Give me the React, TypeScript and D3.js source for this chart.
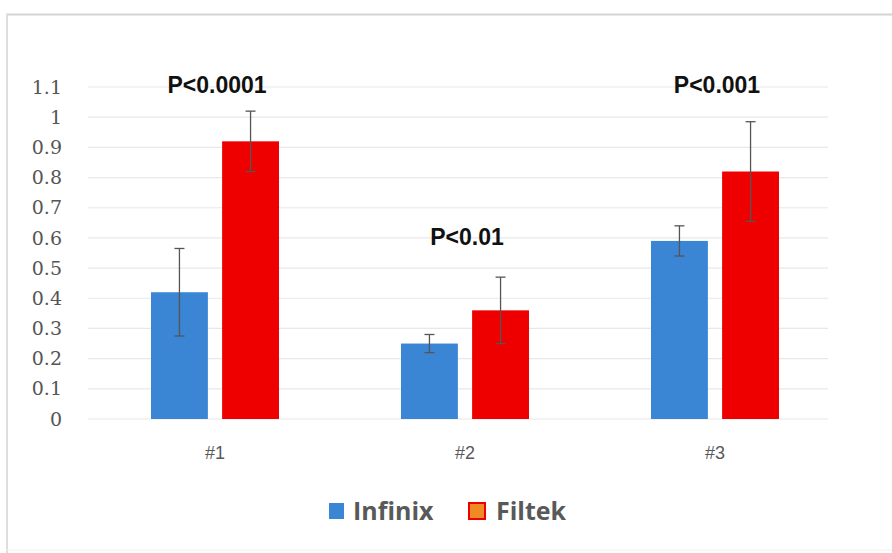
import React from "react";
import * as d3 from "d3";

const categories = ["#1", "#2", "#3"];
const seriesNames = ["Infinix", "Filtek"];
const infinixMeans = [0.42, 0.25, 0.59];
const infinixErr = [0.145, 0.03, 0.05];
const filtekMeans = [0.92, 0.36, 0.82];
const filtekErr = [0.1, 0.11, 0.165];
const pLabels = ["P<0.0001", "P<0.01", "P<0.001"];
const yTicks = [0, 0.1, 0.2, 0.3, 0.4, 0.5, 0.6, 0.7, 0.8, 0.9, 1, 1.1];

const W = 892;
const H = 553;
const colors = ["#3a86d4", "#ee0000"];

export default function App() {
  const x = d3.scaleBand<string>().domain(categories).range([90, 840]).paddingInner(0).paddingOuter(0);
  const x1 = d3.scaleBand<string>().domain(seriesNames).range([0, 128]).paddingInner(0.2);
  const y = d3.scaleLinear().domain([0, 1.1]).range([419, 87]);
  const series = [
    { name: seriesNames[0], means: infinixMeans, errs: infinixErr, color: colors[0] },
    { name: seriesNames[1], means: filtekMeans, errs: filtekErr, color: colors[1] },
  ];
  const groupOffset = (x.bandwidth() - 128) / 2;
  return (
    <div style={{ position: "absolute", left: 0, top: 0 }}>
      <svg width={W} height={H} style={{ display: "block", background: "#fff" }}>
        <rect x={0} y={0} width={W} height={H} fill="#ffffff" />
        <line x1={6} x2={W} y1={14.5} y2={14.5} stroke="#d4d4d4" strokeWidth={2} />
        <line x1={7} x2={7} y1={14} y2={H} stroke="#dedede" strokeWidth={2} />
        <line x1={6} x2={W} y1={550} y2={550} stroke="#f0f0f0" strokeWidth={1} />
        {yTicks.map((t) => (
          <g key={t}>
            <line x1={88} x2={828} y1={y(t)} y2={y(t)} stroke="#e8e8e8" strokeWidth={1.2} />
            <text
              x={62}
              y={y(t)}
              dy="0.35em"
              textAnchor="end"
              fontFamily="'DejaVu Serif', serif"
              fontSize={19}
              fill="#555"
            >
              {d3.format("~g")(t)}
            </text>
          </g>
        ))}
        {categories.map((c, i) => (
          <g key={c} transform={`translate(${(x(c) as number) + groupOffset},0)`}>
            {series.map((s) => {
              const bx = x1(s.name) as number;
              const bw = x1.bandwidth();
              const cx = bx + bw / 2;
              const top = y(s.means[i] + s.errs[i]);
              const bot = y(s.means[i] - s.errs[i]);
              return (
                <g key={s.name}>
                  <rect x={bx} y={y(s.means[i])} width={bw} height={y(0) - y(s.means[i])} fill={s.color} />
                  <line x1={cx} x2={cx} y1={top} y2={bot} stroke="#555" strokeWidth={1.3} />
                  <line x1={cx - 5} x2={cx + 5} y1={top} y2={top} stroke="#555" strokeWidth={1.3} />
                  <line x1={cx - 5} x2={cx + 5} y1={bot} y2={bot} stroke="#555" strokeWidth={1.3} />
                </g>
              );
            })}
          </g>
        ))}
        {categories.map((c, i) => {
          const cx = (x(c) as number) + x.bandwidth() / 2;
          const maxTop = Math.max(filtekMeans[i] + filtekErr[i], infinixMeans[i] + infinixErr[i]);
          return (
            <g key={"lab" + c}>
              <text
                x={cx}
                y={453}
                dy="0.35em"
                textAnchor="middle"
                fontFamily="'Liberation Sans', Arial, sans-serif"
                fontSize={18}
                fill="#595959"
              >
                {c}
              </text>
              <text
                x={cx + 2}
                y={i === 1 ? y(maxTop) - 40 : 85}
                dy="0.35em"
                textAnchor="middle"
                fontFamily="'Liberation Sans', Arial, sans-serif"
                fontWeight="bold"
                fontSize={23}
                fill="#111"
              >
                {pLabels[i]}
              </text>
            </g>
          );
        })}
        <g transform="translate(0,511)">
          <rect x={329} y={-8} width={15} height={16} fill={colors[0]} />
          <text x={353} y={0} dy="0.35em" fontFamily="'Open Sans', 'Liberation Sans', sans-serif" fontWeight="bold" fontSize={25} fill="#595959">
            {seriesNames[0]}
          </text>
          <rect x={469} y={-8} width={16} height={16} fill="#f08a24" stroke="#ee0000" strokeWidth={2} />
          <text x={496} y={0} dy="0.35em" fontFamily="'Open Sans', 'Liberation Sans', sans-serif" fontWeight="bold" fontSize={25} fill="#595959">
            {seriesNames[1]}
          </text>
        </g>
      </svg>
    </div>
  );
}
